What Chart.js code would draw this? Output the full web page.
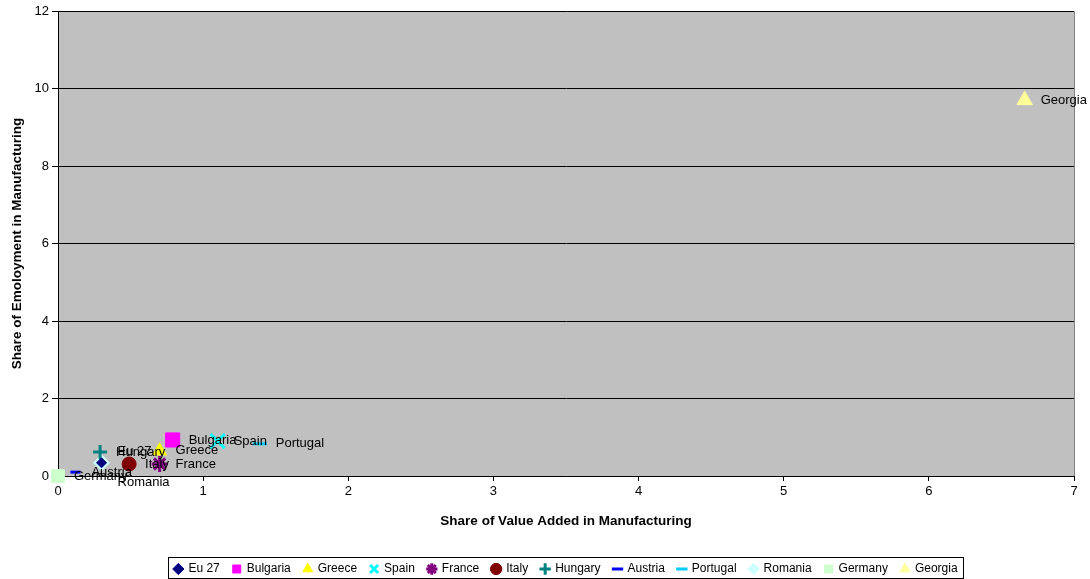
<!DOCTYPE html>
<html>
<head>
<meta charset="utf-8">
<script src="https://cdn.jsdelivr.net/npm/chart.js@4/dist/chart.umd.min.js"></script>
<style>
  html, body { margin: 0; padding: 0; background: #fff; }
  #wrap { width: 1090px; height: 579px; }
</style>
</head>
<body>
<div id="wrap"><canvas id="myChart" width="1090" height="579"></canvas></div>
<script>
// one point per country: share of value added (x), share of employment (y)
const countries = ["Eu 27", "Bulgaria", "Greece", "Spain", "France", "Italy",
  "Hungary", "Austria", "Portugal", "Romania", "Germany", "Georgia"];
const valueAdded = [0.30, 0.79, 0.70, 1.10, 0.70, 0.49, 0.29, 0.12, 1.39, 0.30, 0.00, 6.66];
const employment = [0.34, 0.93, 0.65, 0.90, 0.31, 0.31, 0.62, 0.10, 0.83, 0.34, 0.00, 9.70];
const yTicks = [0, 2, 4, 6, 8, 10, 12];
const xTicks = [0, 1, 2, 3, 4, 5, 6, 7];

const markers = {
  "Eu 27": { style: "rectRot", color: "#000080", r: 5 },
  "Bulgaria": { style: "rect", color: "#FF00FF", r: 10 },
  "Greece": { style: "triangle", color: "#FFFF00", r: 8 },
  "Spain": { style: "crossRot", color: "#00FFFF", r: 10, line: true },
  "France": { style: "star", color: "#800080", r: 8, line: true },
  "Italy": { style: "circle", color: "#800000", r: 7 },
  "Hungary": { style: "cross", color: "#008080", r: 7, line: true },
  "Austria": { style: "line", color: "#0000FF", r: 5, line: true },
  "Portugal": { style: "line", color: "#00CCFF", r: 7, line: true },
  "Romania": { style: "rectRot", color: "#CCFFFF", r: 8 },
  "Germany": { style: "rect", color: "#CCFFCC", r: 9 },
  "Georgia": { style: "triangle", color: "#FFFF99", r: 9 },
};

// labels that were dragged away from their markers in the original
const labelShift = { "Romania": 20, "Eu 27": -11 };

const FONT = "'Liberation Sans', Arial, sans-serif";

const plotBackground = {
  id: "plotBackground",
  beforeDraw(chart) {
    const { ctx, chartArea: a } = chart;
    ctx.save();
    ctx.fillStyle = "#C0C0C0";
    ctx.fillRect(a.left, a.top, a.right - a.left, a.bottom - a.top);
    ctx.strokeStyle = "#808080";
    ctx.lineWidth = 1;
    ctx.beginPath();
    ctx.moveTo(a.left, a.top + 0.5);
    ctx.lineTo(a.right + 0.5, a.top + 0.5);
    ctx.lineTo(a.right + 0.5, a.bottom);
    ctx.stroke();
    ctx.restore();
  },
  afterDraw(chart) {
    // frame round the legend
    const boxes = chart.legend.legendHitBoxes;
    if (!boxes || !boxes.length) return;
    const left = Math.min(...boxes.map((b) => b.left)) - 6;
    const right = Math.max(...boxes.map((b) => b.left + b.width)) + 6;
    const top = Math.min(...boxes.map((b) => b.top)) - 6;
    const bottom = Math.max(...boxes.map((b) => b.top + b.height)) + 3;
    const ctx = chart.ctx;
    ctx.save();
    ctx.strokeStyle = "#000";
    ctx.lineWidth = 1;
    ctx.strokeRect(Math.round(left) + 0.5, Math.round(top) + 0.5, Math.round(right - left), Math.round(bottom - top));
    ctx.restore();
  },
};

const pointLabels = {
  id: "pointLabels",
  afterDatasetsDraw(chart) {
    const ctx = chart.ctx;
    ctx.save();
    ctx.font = "13px " + FONT;
    ctx.fillStyle = "#000";
    ctx.textBaseline = "middle";
    chart.data.datasets.forEach((ds, i) => {
      const pt = chart.getDatasetMeta(i).data[0];
      const dy = labelShift[ds.label] || 0;
      ctx.fillText(ds.label, pt.x + 16, pt.y + dy);
    });
    ctx.restore();
  },
};

function buildDatasets() {
  return countries.map((name, i) => {
    const m = markers[name];
    return {
      label: name,
      data: [{ x: valueAdded[i], y: employment[i] }],
      pointStyle: m.style,
      pointRadius: m.r,
      pointHoverRadius: m.r,
      backgroundColor: m.color,
      borderColor: m.color,
      borderWidth: m.line ? 3 : 1,
      clip: false,
    };
  });
}

window.onload = function () {
  const ctx = document.getElementById("myChart");
  new Chart(ctx, {
    type: "scatter",
    data: { datasets: buildDatasets() },
    options: {
      responsive: false,
      animation: false,
      layout: { autoPadding: false, padding: { top: 11, right: 16, left: 0, bottom: 0 } },
      plugins: {
        tooltip: { enabled: false },
        legend: {
          position: "bottom",
          fullSize: false,
          maxHeight: 29,
          labels: {
            usePointStyle: true,
            boxWidth: 8,
            boxHeight: 8,
            padding: 13,
            color: "#000",
            font: { family: FONT, size: 12 },
          },
        },
      },
      scales: {
        x: {
          type: "linear",
          min: 0,
          max: 7,
          afterBuildTicks: (s) => { s.ticks = xTicks.map((v) => ({ value: v })); },
          afterFit: (s) => { s.height = 74; },
          grid: { drawOnChartArea: false, color: "#000", tickLength: 5, tickColor: "#000" },
          border: { color: "#000", width: 1 },
          ticks: { color: "#000", font: { family: FONT, size: 13 }, padding: 3 },
          title: {
            display: true,
            text: "Share of Value Added in Manufacturing",
            color: "#000",
            font: { family: FONT, size: 13.5, weight: "bold" },
            padding: { top: 0, bottom: 21 },
          },
        },
        y: {
          type: "linear",
          min: 0,
          max: 12,
          afterBuildTicks: (s) => { s.ticks = yTicks.map((v) => ({ value: v })); },
          afterFit: (s) => { s.width = 58; },
          grid: { color: "#000", tickLength: 6, tickColor: "#000" },
          border: { color: "#000", width: 1 },
          ticks: { color: "#000", font: { family: FONT, size: 13, lineHeight: 1 }, padding: 3 },
          title: {
            display: true,
            text: "Share of Emoloyment in Manufacturing",
            color: "#000",
            font: { family: FONT, size: 13.5, weight: "bold" },
            padding: { top: 9, bottom: 0 },
          },
        },
      },
    },
    plugins: [plotBackground, pointLabels],
  });
};
</script>
</body>
</html>
